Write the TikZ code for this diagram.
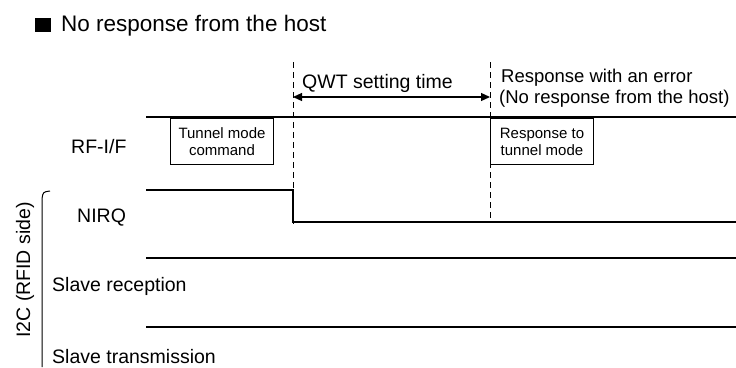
\documentclass[tikz,border=0pt]{standalone}
\usepackage{fontspec}
\setmainfont{Liberation Sans}
\usetikzlibrary{arrows.meta, positioning}
\tikzset{
  siglabel/.style={font=\fontsize{19.5}{22}\selectfont, inner sep=0pt, anchor=base west},
  notelabel/.style={font=\fontsize{18.5}{20}\selectfont, inner sep=0pt, anchor=base west},
  cmdbox/.style={draw, line width=1pt, font=\fontsize{15}{17}\selectfont, align=center,
    inner sep=0pt, minimum width=103pt, minimum height=46pt, anchor=north west},
  wave/.style={line width=1.2pt},
  marker/.style={line width=0.9pt, dash pattern=on 6pt off 4pt},
  span/.style={line width=1.2pt, {Triangle[length=9pt,width=8pt]}-{Triangle[length=9pt,width=8pt]}},
}

\begin{document}
\begin{tikzpicture}[x=1pt,y=-1pt]
    \useasboundingbox (0,0) rectangle (736,367);

    % title
    \fill (35,17.5) rectangle (51,31.5);
    \node[font=\fontsize{22.5}{26}\selectfont, inner sep=0pt, anchor=base west] (title) at (61,31) {No response from the host};

    % time markers
    \coordinate (t0) at (293,62);
    \coordinate (t1) at (490,62);
    \draw[marker] (t0) -- ++(0,162);
    \draw[marker] (t1) -- ++(0,160);
    \coordinate (a0) at (293,97);
    \coordinate (a1) at (490,97);
    \draw[span] (a0) -- (a1);
    \node[siglabel] (qwt) at (302,88) {QWT setting time};
    \node[notelabel] (err1) at (501,82) {Response with an error};
    \node[notelabel] (err2) at (499,103) {(No response from the host)};

    % RF-I/F
    \draw[wave] (146,117) -- (736,117);
    \node[siglabel] (rfif) at (71,153) {RF-I/F};
    \node[cmdbox] (cmd) at (170,118) {Tunnel mode\\command};
    \node[cmdbox] (resp) at (490,118) {Response to\\tunnel mode};

    % NIRQ
    \draw[wave] (146,190) -- (293,190) -- (293,222) -- (736,222);
    \node[siglabel] (nirq) at (77,222) {NIRQ};

    % slave lines
    \draw[wave] (146,258) -- (736,258);
    \node[siglabel] (srx) at (52,291) {Slave reception};
    \draw[wave] (146,327) -- (736,327);
    \node[siglabel] (stx) at (52,363.5) {Slave transmission};

    % I2C group
    \draw[line width=1pt] (50,191) .. controls (43,192) .. (42,199) -- (42,367);
    \node[font=\fontsize{19.5}{22}\selectfont, inner sep=0pt, rotate=90] (i2c) at (25,270) {I2C (RFID side)};
\end{tikzpicture}
\end{document}
